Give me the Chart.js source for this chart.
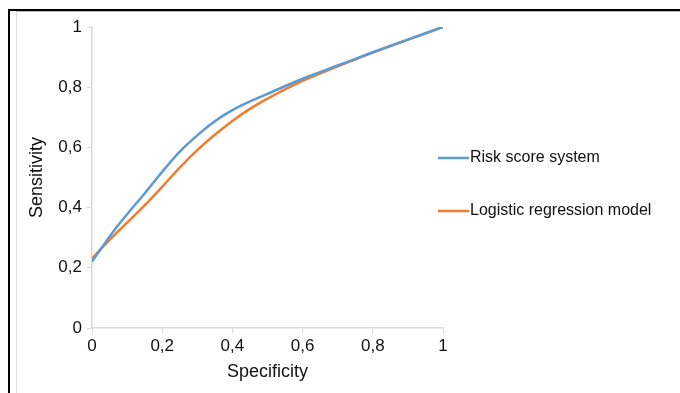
<!DOCTYPE html>
<html>
<head>
<meta charset="utf-8">
<script src="https://cdn.jsdelivr.net/npm/chart.js@4"></script>
<style>
  html, body { margin: 0; padding: 0; background: #fff; }
  #wrap { position: relative; width: 680px; height: 393px; }
  #frame { position: absolute; left: 8px; top: 9px; right: 0; bottom: 0;
           border-top: 2px solid #000; border-left: 2px solid #000; pointer-events: none; }
  #frameInner { position: absolute; left: 16px; top: 11px; right: 0; bottom: 0;
           border-top: 1px solid #bbb; border-left: 1px solid #ddd; pointer-events: none; }
  canvas { position: absolute; left: 0; top: 0; }
</style>
</head>
<body>
<div id="wrap">
  <canvas id="roc" width="680" height="393"></canvas>
  <div id="frameInner"></div>
  <div id="frame"></div>
</div>
<script>
// values
const specificity = [0, 0.04, 0.07, 0.1, 0.15, 0.2, 0.25, 0.3, 0.35, 0.4, 0.45, 0.5, 0.6, 0.7, 0.8, 0.9, 1];
const riskScore   = [0.221, 0.287, 0.335, 0.378, 0.447, 0.519, 0.586, 0.64, 0.687, 0.724, 0.753, 0.778, 0.828, 0.872, 0.916, 0.958, 1];
const logistic    = [0.23, 0.281, 0.316, 0.35, 0.407, 0.469, 0.533, 0.591, 0.642, 0.688, 0.728, 0.762, 0.821, 0.869, 0.915, 0.958, 1];
const seriesNames = ['Risk score system', 'Logistic regression model'];
const seriesColors = ['#5b9bd5', '#ed7d31'];
const axisTitles = { x: 'Specificity', y: 'Sensitivity' };

const toPoints = ys => specificity.map((x, i) => ({ x: x, y: ys[i] }));
const commaTick = v => String(Math.round(v * 10) / 10).replace('.', ',');

// legend drawn to the right of the plot, like the original
const sideLegend = {
    id: 'sideLegend',
    afterDraw(chart) {
        const ctx = chart.ctx;
        const rows = [158, 211];
        ctx.save();
        ctx.font = '16px "Liberation Sans", Arial, sans-serif';
        ctx.textBaseline = 'middle';
        chart.data.datasets.forEach((ds, i) => {
            ctx.strokeStyle = ds.borderColor;
            ctx.lineWidth = 2.5;
            ctx.beginPath();
            ctx.moveTo(438, rows[i]);
            ctx.lineTo(469, rows[i]);
            ctx.stroke();
            ctx.fillStyle = '#111';
            ctx.fillText(ds.label, 470, rows[i]);
        });
        ctx.restore();
    }
};

const tickFont = { family: '"Liberation Sans", Arial, sans-serif', size: 17 };
const titleFont = { family: '"Liberation Sans", Arial, sans-serif', size: 18 };

new Chart(document.getElementById('roc'), {
    type: 'line',
    data: {
        datasets: [
            { label: seriesNames[0], data: toPoints(riskScore), borderColor: seriesColors[0] },
            { label: seriesNames[1], data: toPoints(logistic), borderColor: seriesColors[1] }
        ]
    },
    options: {
        responsive: false,
        animation: false,
        layout: { padding: { left: 0, top: 27, right: 237, bottom: 0 } },
        elements: {
            point: { radius: 0 },
            line: { borderWidth: 2.5, cubicInterpolationMode: 'monotone', fill: false }
        },
        plugins: { legend: { display: false }, tooltip: { enabled: false } },
        scales: {
            x: {
                type: 'linear',
                min: 0, max: 1,
                afterFit: s => { s.height = 65; },
                border: { color: '#d9d9d9', width: 1.5 },
                grid: { drawOnChartArea: false, tickLength: 5, color: '#d9d9d9' },
                ticks: { stepSize: 0.2, color: '#111', font: tickFont, padding: 3, maxRotation: 0,
                         callback: v => commaTick(v) },
                title: { display: true, text: axisTitles.x, color: '#111', font: titleFont,
                         padding: { top: 0, bottom: 10 } }
            },
            y: {
                type: 'linear',
                min: 0, max: 1,
                afterFit: s => { s.width = 92; },
                border: { color: '#d9d9d9', width: 1.5 },
                grid: { drawOnChartArea: false, tickLength: 5, color: '#d9d9d9' },
                ticks: { stepSize: 0.2, color: '#111', font: tickFont, padding: 5,
                         callback: v => commaTick(v) },
                title: { display: true, text: axisTitles.y, color: '#111', font: titleFont,
                         padding: { top: 26, bottom: 0 } }
            }
        }
    },
    plugins: [sideLegend]
});
</script>
</body>
</html>
